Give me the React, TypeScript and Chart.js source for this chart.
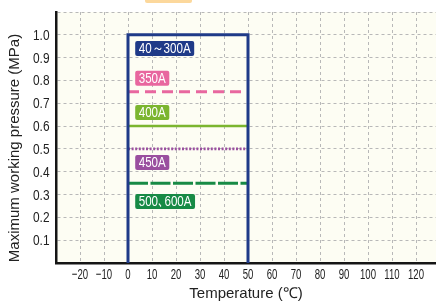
import React, { useEffect, useRef } from "react";
import { Chart, registerables } from "chart.js";

Chart.register(...registerables);

// ---- data ----
const seriesNames = ["40～300A", "350A", "400A", "450A", "500､600A"];
const pressureLimits = [1.0, 0.75, 0.6, 0.5, 0.35]; // MPa
const tempLimits = [0, 50]; // °C
const labelPressures = [0.94, 0.81, 0.66, 0.44, 0.27]; // where the tags sit
const labelTemp = 3;
const seriesColors = ["#1f3a88", "#e8679f", "#7bb52f", "#9a4f9f", "#178a45"];
const seriesDash: number[][] = [[], [11, 6], [], [2, 1.6], [20, 2.5]];
const seriesWidth = [3, 3, 2.5, 2.6, 3];
const xTickRange = [-30, 130];
const yTickRange = [0, 1.1];
const xTitle = "Temperature (℃)";
const yTitle = "Maximum working pressure (MPa)";

const SANS = "'Liberation Sans', Arial, sans-serif";

export default function App() {
  const ref = useRef<HTMLCanvasElement | null>(null);

  useEffect(() => {
    if (!ref.current) return;

    const datasets = seriesNames.map((name, i) => {
      const p = pressureLimits[i];
      const data =
        i === 0
          ? [
              { x: tempLimits[0], y: 0 },
              { x: tempLimits[0], y: p },
              { x: tempLimits[1], y: p },
              { x: tempLimits[1], y: 0 },
            ]
          : [
              { x: tempLimits[0], y: p },
              { x: tempLimits[1], y: p },
            ];
      return {
        label: name,
        data,
        borderColor: seriesColors[i],
        backgroundColor: seriesColors[i],
        borderWidth: seriesWidth[i],
        borderDash: seriesDash[i],
        pointRadius: 0,
        showLine: true,
        fill: false,
        tension: 0,
        clip: false as any,
        order: i === 0 ? 0 : 1,
        borderCapStyle: "butt" as const,
      };
    });

    const drawSquished = (ctx: any, text: string, x: number, y: number, sx: number, align: "left" | "right" | "center") => {
      ctx.save();
      ctx.translate(x, y);
      ctx.scale(sx, 1);
      ctx.textAlign = align;
      ctx.fillText(text, 0, 0);
      ctx.restore();
    };

    const bgPlugin = {
      id: "bg",
      beforeDraw(chart: any) {
        const { ctx, chartArea: a } = chart;
        ctx.save();
        ctx.fillStyle = "#fdfdf3";
        ctx.fillRect(a.left, a.top, a.right - a.left, a.bottom - a.top);
        ctx.restore();
      },
    };

    const tagPlugin = {
      id: "tags",
      afterDatasetsDraw(chart: any) {
        const { ctx, scales } = chart;
        ctx.save();
        ctx.font = `14.5px ${SANS}`;
        ctx.textBaseline = "middle";
        const sx = 0.8;
        seriesNames.forEach((name, i) => {
          const x = scales.x.getPixelForValue(labelTemp);
          const y = scales.y.getPixelForValue(labelPressures[i]);
          const w = ctx.measureText(name).width * sx + 7;
          const h = 15;
          ctx.fillStyle = seriesColors[i];
          ctx.beginPath();
          (ctx as any).roundRect(x, y - h / 2, w, h, 2);
          ctx.fill();
          ctx.fillStyle = "#ffffff";
          drawSquished(ctx, name, x + 3.5, y + 0.5, sx, "left");
        });
        ctx.restore();
      },
      afterDraw(chart: any) {
        const { ctx, scales, chartArea } = chart;
        ctx.save();
        ctx.fillStyle = "#222";
        // x tick labels
        ctx.font = `15px ${SANS}`;
        ctx.textBaseline = "alphabetic";
        scales.x.ticks.forEach((t: any) => {
          const v = t.value;
          if (v === xTickRange[0] || v === xTickRange[1]) return;
          const px = scales.x.getPixelForValue(v);
          const txt = v < 0 ? "−" + Math.abs(v) : String(v);
          drawSquished(ctx, txt, px, chartArea.bottom + 15.5, 0.64, "center");
        });
        // y tick labels
        ctx.font = `14px ${SANS}`;
        scales.y.ticks.forEach((t: any) => {
          const v = Number(t.value);
          if (v < 0.05 || v > 1.05) return;
          const py = scales.y.getPixelForValue(v);
          drawSquished(ctx, v.toFixed(1), chartArea.left - 6.5, py + 5, 0.85, "right");
        });
        // axis titles
        ctx.font = `15px ${SANS}`;
        ctx.textAlign = "center";
        ctx.textBaseline = "middle";
        ctx.fillText(xTitle, 246, 294);
        ctx.translate(15, 148);
        ctx.rotate(-Math.PI / 2);
        ctx.fillText(yTitle, 0, 0);
        ctx.restore();
      },
    };

    const chart = new Chart(ref.current, {
      type: "scatter",
      data: { datasets: datasets as any },
      options: {
        animation: false,
        responsive: false,
        devicePixelRatio: 1,
        layout: { padding: { top: 12, left: 0, right: 0, bottom: 0 } },
        plugins: { legend: { display: false }, tooltip: { enabled: false } },
        scales: {
          x: {
            type: "linear",
            min: xTickRange[0],
            max: xTickRange[1],
            afterFit(scale: any) {
              scale.height = 38;
            },
            ticks: { stepSize: 10, autoSkip: false, maxRotation: 0, display: false },
            grid: { color: "#b8b8b8", lineWidth: 1, drawTicks: false },
            border: { display: true, color: "#151515", width: 2.5, dash: [3, 3] },
          },
          y: {
            type: "linear",
            min: yTickRange[0],
            max: yTickRange[1],
            afterFit(scale: any) {
              scale.width = 56;
            },
            ticks: { stepSize: 0.1, display: false },
            grid: { color: "#b8b8b8", lineWidth: 1, drawTicks: false },
            border: { display: true, color: "#151515", width: 2.5, dash: [3, 3] },
          },
        },
      },
      plugins: [bgPlugin, tagPlugin],
    });
    return () => chart.destroy();
  }, []);

  return (
    <div
      style={{
        position: "absolute",
        left: 0,
        top: 0,
        width: 436,
        height: 301,
        overflow: "hidden",
        background: "#fff",
      }}
    >
      <div
        style={{
          position: "absolute",
          left: 145,
          top: 0,
          width: 47,
          height: 3,
          background: "#fcd89c",
          borderRadius: "0 0 2px 2px",
        }}
      />
      <canvas ref={ref} width={440} height={301} style={{ display: "block" }} />
    </div>
  );
}
